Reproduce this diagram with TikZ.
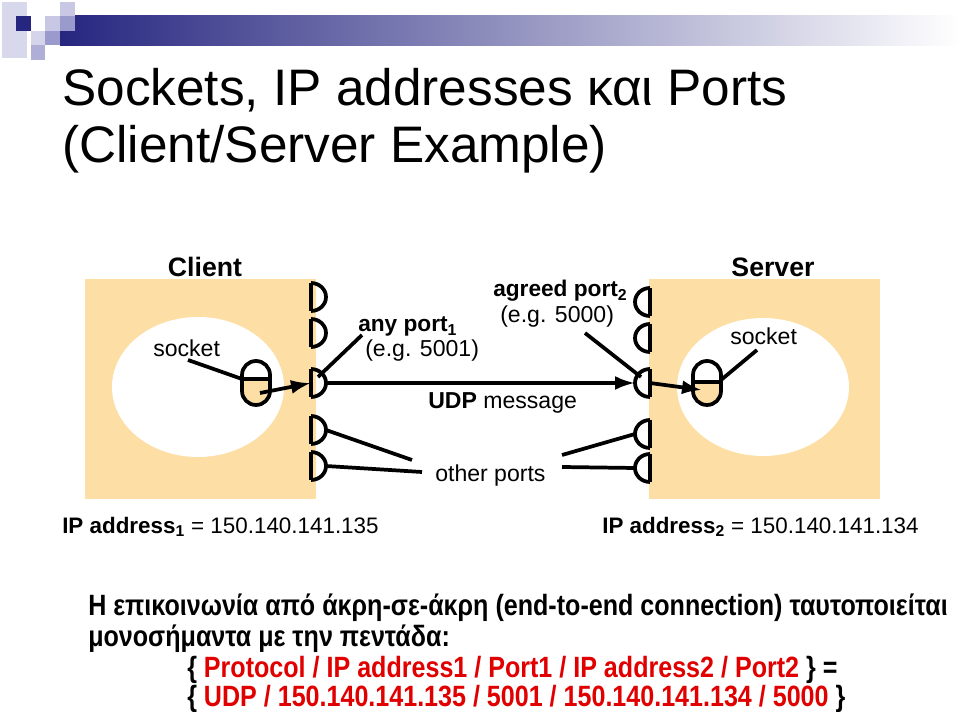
\documentclass[tikz,border=0pt]{standalone}
\usepackage{fontspec}
\setmainfont{Liberation Sans}
\newfontfamily\narrowfont[FakeStretch=0.855]{Liberation Sans}
\usetikzlibrary{arrows.meta}
\definecolor{boxor}{RGB}{253,222,164}
\definecolor{navy}{RGB}{38,38,128}
\definecolor{barmid}{RGB}{185,187,208}
\definecolor{redtxt}{RGB}{225,0,0}
\definecolor{lav1}{RGB}{216,216,236}
\definecolor{lav2}{RGB}{200,200,228}
\definecolor{lav3}{RGB}{154,154,204}
\definecolor{lav4}{RGB}{212,212,234}
\begin{document}
\begin{tikzpicture}[x=0.75pt,y=-0.75pt,
  thk/.style={line width=2.8pt},
  arr/.style={line width=2.8pt,-{Latex[length=15pt,width=10.5pt]}},
  lbl/.style={inner sep=0pt,anchor=base west,font=\fontsize{17.3}{20}\selectfont},
  lblb/.style={lbl,font=\fontsize{17}{20}\selectfont\bfseries},
  hdr/.style={inner sep=0pt,anchor=base,font=\fontsize{20}{24}\selectfont\bfseries},
  ttl/.style={inner sep=0pt,anchor=base west,font=\fontsize{38.5}{42}\selectfont},
  btm/.style={inner sep=0pt,anchor=base west,font=\fontsize{22}{26}\selectfont\narrowfont\bfseries}]
\useasboundingbox (0,0) rectangle (960,712);
\fill[white] (0,0) rectangle (960,712);
% logo and bar
\shade[left color=navy,middle color=barmid,right color=white] (60,16) rectangle (960,46);
\fill[lav1] (2,2) rectangle (27,58);
\fill[navy] (16,16) rectangle (31,31);
\fill[lav4] (31,31) rectangle (45,45);
\fill[lav2] (45,16) rectangle (60,31);
\fill[lav3] (45,31) rectangle (60,45);
\fill[lav3!80!white] (31,45) rectangle (45,60);
\fill[lav2] (60,2) rectangle (75,16);
\fill[lav3] (60,16) rectangle (75,31);
% title
\node[ttl] (t1) at (62,106) {Sockets, IP addresses και Ports};
\node[ttl] (t2) at (62,163) {(Client/Server Example)};
% boxes
\fill[boxor] (85,279) rectangle (316,499);
\fill[boxor] (649,279) rectangle (880,499);
\fill[white] (198,387) ellipse [x radius=86, y radius=70];
\fill[white] (763,387) ellipse [x radius=86, y radius=69];
\node[hdr] (client) at (205,277) {Client};
\node[hdr] (server) at (773,277) {Server};
% client ports
\foreach \i/\y in {1/297,2/333,3/383,4/430,5/466}{
  \draw[thk] (311,\y-14) -- (311,\y+14);
  \draw[thk] (311,\y-14) arc[start angle=-90,end angle=90,x radius=15,y radius=14];
  \coordinate (cp\i) at (311,\y);
  \coordinate (cpo\i) at (326,\y);
}
% server ports
\foreach \i/\y in {1/302,2/338,3/383,4/434,5/468}{
  \draw[thk] (650,\y-14) -- (650,\y+14);
  \draw[thk] (650,\y-14) arc[start angle=270,end angle=90,x radius=15,y radius=14];
  \coordinate (sp\i) at (650,\y);
  \coordinate (spo\i) at (635,\y);
}
% client socket
\begin{scope}
\clip[rounded corners=10.5pt] (242,361) rectangle (270,405);
\fill[boxor] (242,379) rectangle (270,405);
\end{scope}
\draw[thk,rounded corners=10.5pt] (242,361) rectangle (270,405);
\draw[thk] (242,379) -- (270,379);
\coordinate (csock) at (260,393);
\coordinate (csockl) at (242,379);
% server socket
\begin{scope}
\clip[rounded corners=10.5pt] (693,361) rectangle (721,405);
\fill[boxor] (693,382) rectangle (721,405);
\end{scope}
\draw[thk,rounded corners=10.5pt] (693,361) rectangle (721,405);
\draw[thk] (693,382) -- (721,382);
\coordinate (ssock) at (702,390);
\coordinate (ssockr) at (721,380);
% labels
\node[lbl] (csl) at (153,357) {socket};
\node[lbl] (ssl) at (730,345) {socket};
\node[lblb] (anyp) at (358,332) {any port\textsubscript{1}};
\node[lbl] (eg1) at (365,357) {(e.g. 5001)};
\node[lblb] (agp) at (493,297) {agreed port\textsubscript{2}};
\node[lbl] (eg2) at (500,323) {(e.g. 5000)};
\node[lbl] (udp) at (428,409) {\textbf{UDP} message};
\node[lbl] (oth) at (435,482) {other ports};
\node[lbl,font=\fontsize{16.8}{20}\selectfont] (ip1) at (62,533) {\textbf{IP address\textsubscript{1}} = 150.140.141.135};
\node[lbl,font=\fontsize{16.8}{20}\selectfont] (ip2) at (602,533) {\textbf{IP address\textsubscript{2}} = 150.140.141.134};
% connectors
\coordinate (csl1) at (188,360);
\coordinate (ssl1) at (757,350);
\coordinate (anyl) at (362,335);
\coordinate (agl) at (585,333);
\coordinate (oth1) at (412,460);
\coordinate (oth2) at (422,472);
\coordinate (oth3) at (562,455);
\coordinate (oth4) at (562,467);
\draw[thk] (csl1) -- (csockl);
\draw[thk] (ssl1) -- (ssockr);
\draw[arr] (csock) -- (cp3);
\draw[arr] (cpo3) -- (spo3);
\draw[arr] (sp3) -- (ssock);
\draw[thk] (anyl) -- (318,377);
\draw[thk] (agl) -- (641,377);
\draw[thk] (cpo4) -- (oth1);
\draw[thk] (cpo5) -- (oth2);
\draw[thk] (oth3) -- (spo4);
\draw[thk] (oth4) -- (spo5);
% bottom text
\node[btm] (b1) at (88,615) {Η επικοινωνία από άκρη-σε-άκρη (end-to-end connection) ταυτοποιείται};
\node[btm] (b2) at (88,646) {μονοσήμαντα με την πεντάδα:};
\node[btm] (b3) at (187,677) {\{ \textcolor{redtxt}{Protocol / IP address1 / Port1 / IP address2 / Port2} \} =};
\node[btm] (b4) at (187,706) {\{ \textcolor{redtxt}{UDP / 150.140.141.135 / 5001 / 150.140.141.134 / 5000} \}};
\end{tikzpicture}
\end{document}
